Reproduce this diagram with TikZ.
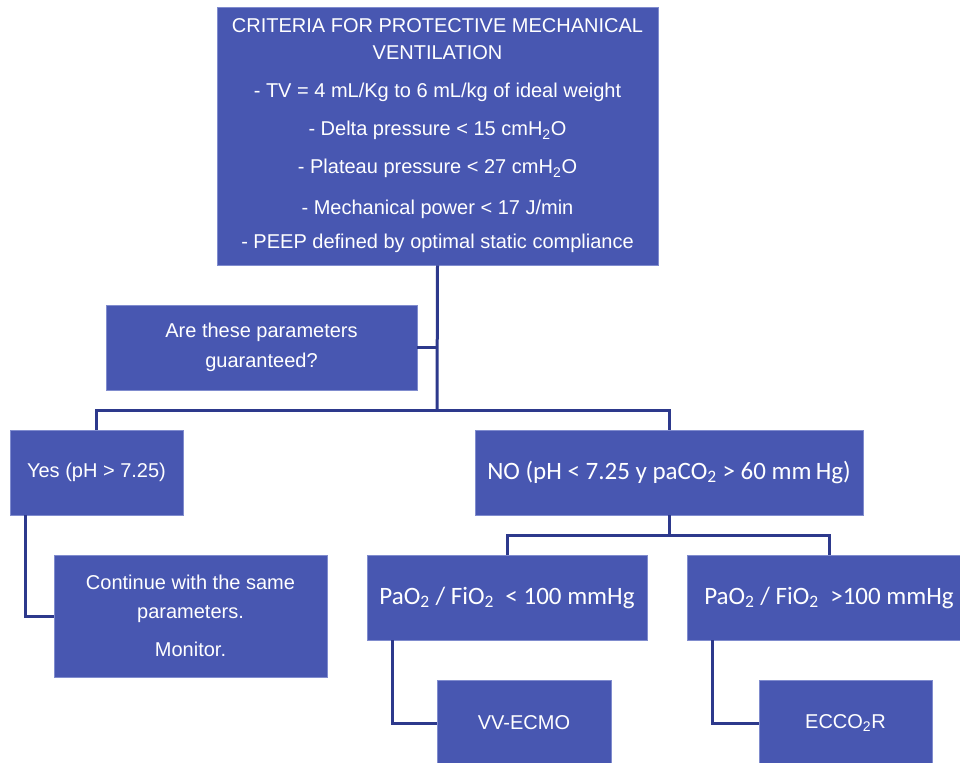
\documentclass[tikz,border=0pt]{standalone}
\usepackage{fontspec}
\setmainfont{Liberation Sans}
\newfontfamily\calibfont{Carlito}

\tikzset{every picture/.style={line width=0.75pt}}
\tikzset{
  boxsize/.style 2 args={minimum width=#1*0.75pt, minimum height=#2*0.75pt},
  flowbox/.style={draw={rgb, 255:red, 128; green, 140; blue, 206}, fill={rgb, 255:red, 72; green, 87; blue, 177}, text=white, inner sep=0pt, align=center, line width=0.6pt, font=\fontsize{15}{20.25}\selectfont},
  calibbox/.style={flowbox, font=\calibfont\fontsize{18.75}{22}\selectfont},
  link/.style={draw={rgb, 255:red, 45; green, 57; blue, 140}, line width=2.25pt}
}

\begin{document}
\begin{tikzpicture}[x=0.75pt,y=0.75pt,yscale=-1,xscale=1]
        %set diagram: 960 wide, 763 high
        \clip (0,0) rectangle (960,763);

        % Text Node
        \node (crit) [flowbox, boxsize={441}{258}] at (437.5,136) {CRITERIA FOR PROTECTIVE MECHANICAL\\VENTILATION\\[8.25pt]
          - TV = 4 mL/Kg to 6 mL/kg of ideal weight\\[8.25pt]
          - Delta pressure < 15 cmH\textsubscript{2}O\\[8.25pt]
          - Plateau pressure < 27 cmH\textsubscript{2}O\\[10.5pt]
          - Mechanical power < 17 J/min\\[5.25pt]
          - PEEP defined by optimal static compliance};
        % Text Node
        \node (quest) [flowbox, boxsize={311}{85}, font=\fontsize{15}{22.5}\selectfont] at (261.5,347.5) {Are these parameters\\guaranteed?};
        % Text Node
        \node (yes) [flowbox, boxsize={173}{85}] at (96.5,472.5) {Yes (pH > 7.25)};
        % Text Node
        \node (no) [calibbox, boxsize={388}{85}] at (669,472.5) {NO (pH < 7.25 y paCO\textsubscript{2} > 60 mm\,Hg)};
        % Text Node
        \node (cont) [flowbox, boxsize={273}{122}, font=\fontsize{15}{21.75}\selectfont] at (190.5,616) {Continue with the same\\parameters.\\[6.75pt]Monitor.};
        % Text Node
        \node (low) [calibbox, boxsize={280}{85}] at (507,597.5) {PaO\textsubscript{2} / FiO\textsubscript{2}~ < 100 mmHg};
        % Text Node
        \node (high) [calibbox, boxsize={284}{85}] at (829,597.5) {PaO\textsubscript{2} / FiO\textsubscript{2}~ >100 mmHg};
        % Text Node
        \node (ecmo) [flowbox, boxsize={174}{86}] at (524,723) {VV-ECMO};
        % Text Node
        \node (eccor) [flowbox, boxsize={173}{86}] at (845.5,723) {ECCO\textsubscript{2}R};

        \coordinate (fork) at (437,410);
        \coordinate (subfork) at (669,535);

        %Straight Lines
        \draw [link] (crit.south) -- (fork) ;
        \draw [link] (quest.east) -- (quest.east -| fork) ;
        \draw [link] (yes.north) |- (fork) -| (no.north) ;
        \draw [link] (no.south) -- (subfork) ;
        \draw [link] (low.north) |- (subfork) -| (high.north) ;
        %Elbow Lines
        \draw [link] ([xshift=16*0.75pt]yes.south west) |- (cont.west) ;
        \draw [link] ([xshift=26*0.75pt]low.south west) |- (ecmo.west) ;
        \draw [link] ([xshift=26*0.75pt]high.south west) |- (eccor.west) ;
\end{tikzpicture}
\end{document}
